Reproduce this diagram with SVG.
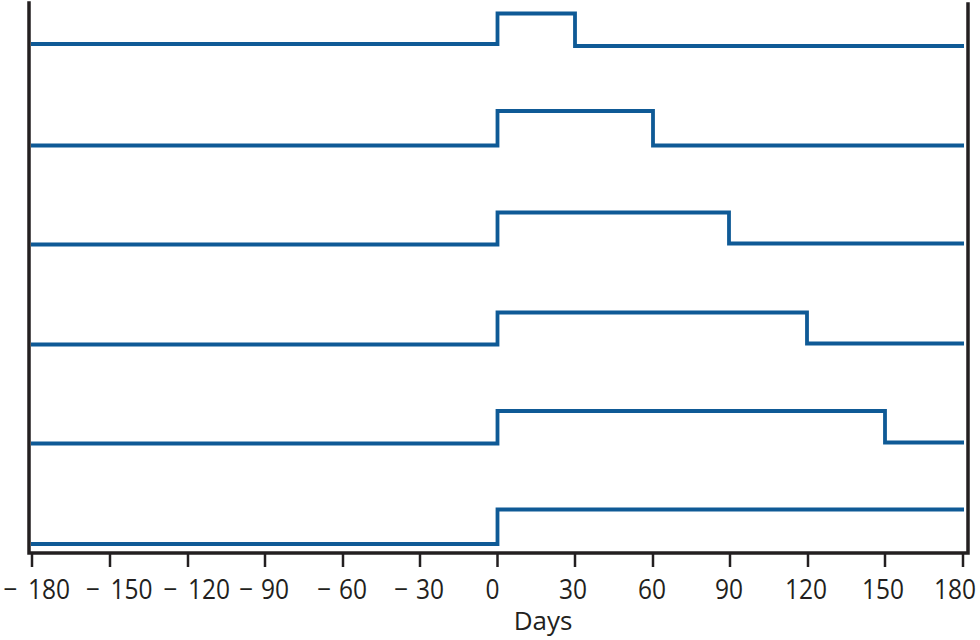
<svg xmlns="http://www.w3.org/2000/svg" width="980" height="640" viewBox="0 0 980 640">
<style>
.ax{stroke:#231f20;stroke-width:3.5;fill:none;stroke-linecap:square}
.tk{stroke:#231f20;stroke-width:2.5;fill:none}
.st{stroke:#0f5a96;stroke-width:3.8;fill:none;stroke-linejoin:miter;stroke-linecap:butt}
.lb{font-family:"Open Sans","Liberation Sans",sans-serif;font-size:28px;fill:#231f20;text-anchor:middle}
.dl{font-family:"Open Sans","Liberation Sans",sans-serif;font-size:26px;fill:#231f20;text-anchor:middle}
</style>
<rect width="980" height="640" fill="#fff"/>
<g id="axes">
<path class="ax" d="M29,3 V553 H968 V4"/>
<g class="tk">
<line x1="32" y1="553" x2="32" y2="567"/>
<line x1="110" y1="553" x2="110" y2="567"/>
<line x1="188" y1="553" x2="188" y2="567"/>
<line x1="265" y1="553" x2="265" y2="567"/>
<line x1="343" y1="553" x2="343" y2="567"/>
<line x1="420" y1="553" x2="420" y2="567"/>
<line x1="497.5" y1="553" x2="497.5" y2="567"/>
<line x1="575" y1="553" x2="575" y2="567"/>
<line x1="653" y1="553" x2="653" y2="567"/>
<line x1="730" y1="553" x2="730" y2="567"/>
<line x1="808" y1="553" x2="808" y2="567"/>
<line x1="885" y1="553" x2="885" y2="567"/>
<line x1="963" y1="553" x2="963" y2="567"/>
</g>
</g>
<g id="labels">
<text class="lb" transform="translate(49,599) scale(0.875,1)"><tspan x="-44">−</tspan><tspan x="0">180</tspan></text>
<text class="lb" transform="translate(131.5,599) scale(0.875,1)"><tspan x="-44">−</tspan><tspan x="0">150</tspan></text>
<text class="lb" transform="translate(209,599) scale(0.875,1)"><tspan x="-44">−</tspan><tspan x="0">120</tspan></text>
<text class="lb" transform="translate(275,599) scale(0.875,1)"><tspan x="-33">−</tspan><tspan x="0">90</tspan></text>
<text class="lb" transform="translate(353,599) scale(0.875,1)"><tspan x="-33">−</tspan><tspan x="0">60</tspan></text>
<text class="lb" transform="translate(430,599) scale(0.875,1)"><tspan x="-33">−</tspan><tspan x="0">30</tspan></text>
<text class="lb" transform="translate(492.5,599) scale(0.875,1)">0</text>
<text class="lb" transform="translate(573,599) scale(0.875,1)">30</text>
<text class="lb" transform="translate(652,599) scale(0.875,1)">60</text>
<text class="lb" transform="translate(729,599) scale(0.875,1)">90</text>
<text class="lb" transform="translate(806,599) scale(0.875,1)">120</text>
<text class="lb" transform="translate(883,599) scale(0.875,1)">150</text>
<text class="lb" transform="translate(955,599) scale(0.875,1)">180</text>
<text class="dl" x="543" y="630">Days</text>
</g>
<g id="steps" class="st">
<path id="row1" d="M31,44 H497.5 V13.5 H575 V46 H964"/>
<path id="row2" d="M31,145.5 H497.5 V111 H653 V145.5 H964"/>
<path id="row3" d="M31,244.5 H497.5 V212.5 H729 V243.5 H964"/>
<path id="row4" d="M31,344.5 H497.5 V312.5 H807 V343.5 H964"/>
<path id="row5" d="M31,443.5 H497.5 V411 H885 V442.5 H964"/>
<path id="row6" d="M31,544 H497.5 V509.5 H964"/>
</g>
</svg>
